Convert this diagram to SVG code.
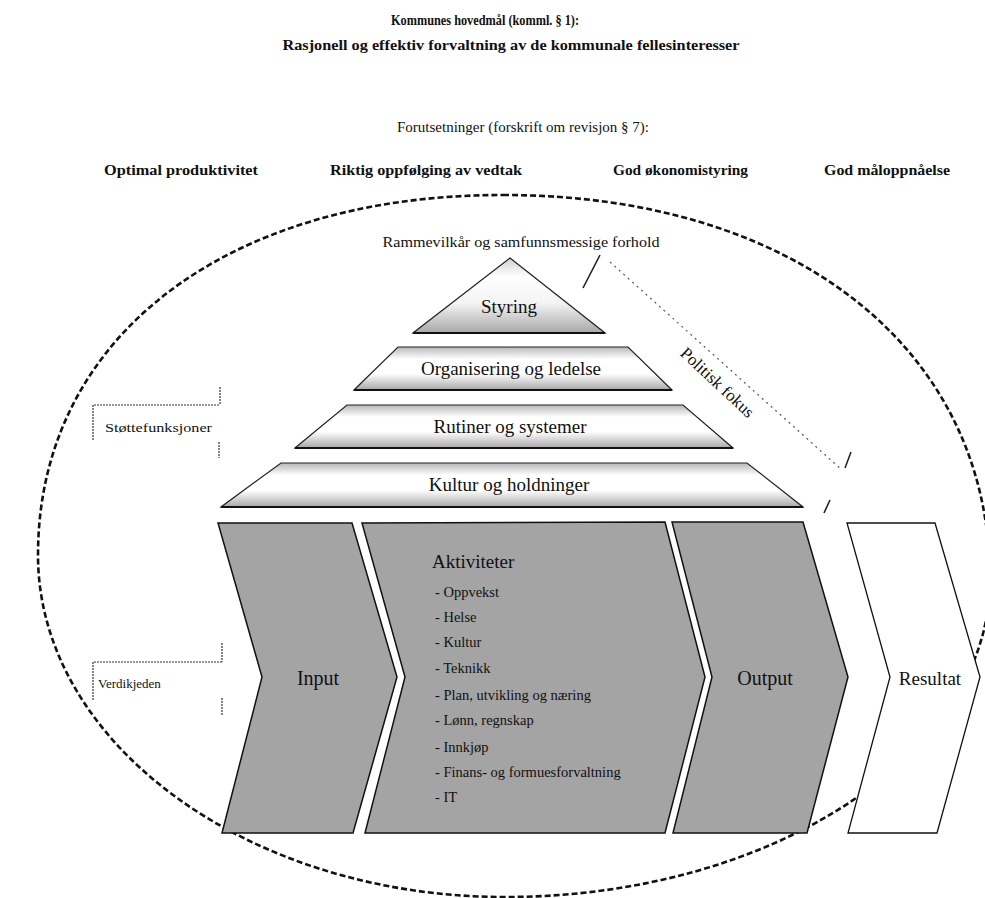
<svg xmlns="http://www.w3.org/2000/svg" width="985" height="898" viewBox="0 0 985 898">
<defs>
<linearGradient id="band" x1="0" y1="0" x2="0" y2="1">
<stop offset="0" stop-color="#b8b8b8"/>
<stop offset="0.28" stop-color="#ffffff"/>
<stop offset="0.62" stop-color="#ffffff"/>
<stop offset="1" stop-color="#a8a8a8"/>
</linearGradient>
<linearGradient id="tri" x1="0" y1="0" x2="0" y2="1">
<stop offset="0" stop-color="#d0d0d0"/>
<stop offset="0.25" stop-color="#ffffff"/>
<stop offset="0.6" stop-color="#f4f4f4"/>
<stop offset="1" stop-color="#a8a8a8"/>
</linearGradient>
<style>
text{font-family:"Liberation Serif","Times New Roman",serif;fill:#111}
.hd{font-size:15px}
.hb{font-size:15px;font-weight:bold}
.pre{font-size:14px;font-weight:bold}
.lvl{font-size:19px;text-anchor:middle}
.chev{fill:#a4a4a4;stroke:#111;stroke-width:1.5}
.res{fill:#ffffff;stroke:#111;stroke-width:1.3}
.band{fill:url(#band);stroke:#222;stroke-width:1.2}
.base{stroke:#111;stroke-width:2.2}
.big{font-size:20px;text-anchor:middle}
.item{font-size:14.5px}
.lbl{font-size:13px}
.brk{fill:none;stroke:#333;stroke-width:1.2;stroke-dasharray:2 1}
.dot{fill:none;stroke:#555;stroke-width:1.2;stroke-dasharray:2 4}
.tick{stroke:#222;stroke-width:1.6}
</style>
</defs>
<rect width="985" height="898" fill="#ffffff"/>

<g id="header">
<text class="hb" x="485" y="25" text-anchor="middle" textLength="188" lengthAdjust="spacingAndGlyphs">Kommunes hovedmål (komml. § 1):</text>
<text class="hb" x="511" y="50" text-anchor="middle" textLength="457" lengthAdjust="spacingAndGlyphs">Rasjonell og effektiv forvaltning av de kommunale fellesinteresser</text>
</g>

<g id="forutsetninger">
<text class="hd" x="523" y="132" text-anchor="middle" font-size="14">Forutsetninger (forskrift om revisjon § 7):</text>
<text class="pre" x="104" y="175" textLength="154" lengthAdjust="spacingAndGlyphs">Optimal produktivitet</text>
<text class="pre" x="330" y="175" textLength="192" lengthAdjust="spacingAndGlyphs">Riktig oppfølging av vedtak</text>
<text class="pre" x="613" y="175" textLength="135" lengthAdjust="spacingAndGlyphs">God økonomistyring</text>
<text class="pre" x="824" y="175" textLength="126" lengthAdjust="spacingAndGlyphs">God måloppnåelse</text>
</g>

<g id="ramme">
<path d="M503,195 C795,195 990,349 990,580 C990,754 772,897 505,897 C248,897 38,743 38,555 C38,339 224,195 503,195 Z" fill="none" stroke="#111" stroke-width="2.6" stroke-dasharray="6 3"/>
<text class="hd" x="521" y="247" text-anchor="middle" textLength="277" lengthAdjust="spacingAndGlyphs">Rammevilkår og samfunnsmessige forhold</text>
</g>

<g id="styring">
<polygon points="510,258 605,333 413,333" fill="url(#tri)" stroke="#222" stroke-width="1.2"/>
<line class="base" x1="413" y1="333" x2="605" y2="333"/>
<text class="lvl" x="509" y="313" font-size="21">Styring</text>
</g>

<g id="organisering">
<polygon class="band" points="398,347 628,347 672,390 354,390"/>
<line class="base" x1="354" y1="390" x2="672" y2="390"/>
<text class="lvl" x="511" y="375">Organisering og ledelse</text>
</g>

<g id="rutiner">
<polygon class="band" points="347,405 683,405 733,448 295,448"/>
<line class="base" x1="295" y1="448" x2="733" y2="448"/>
<text class="lvl" x="510" y="433">Rutiner og systemer</text>
</g>

<g id="kultur">
<polygon class="band" points="281,463 747,463 803,507 221,507"/>
<line class="base" x1="221" y1="507" x2="803" y2="507"/>
<text class="lvl" x="509" y="491">Kultur og holdninger</text>
</g>

<g id="input">
<polygon class="chev" points="218,523 352,523 397,677 353,833 222,833 262,677"/>
<text class="big" x="318" y="685">Input</text>
</g>

<g id="aktiviteter">
<polygon class="chev" points="362,523 665,522 705,677 665,833 365,833 405,677"/>
<text x="432" y="568" font-size="19">Aktiviteter</text>
<text class="item" x="435" y="597">- Oppvekst</text>
<text class="item" x="435" y="622">- Helse</text>
<text class="item" x="435" y="647">- Kultur</text>
<text class="item" x="435" y="673">- Teknikk</text>
<text class="item" x="435" y="700">- Plan, utvikling og næring</text>
<text class="item" x="435" y="725">- Lønn, regnskap</text>
<text class="item" x="435" y="752">- Innkjøp</text>
<text class="item" x="435" y="777">- Finans- og formuesforvaltning</text>
<text class="item" x="435" y="802">- IT</text>
</g>

<g id="output">
<polygon class="chev" points="672,522 803,522 848,677 807,833 673,833 712,677"/>
<text class="big" x="765" y="685">Output</text>
</g>

<g id="resultat">
<polygon class="res" points="847,523 935,523 980,677 937,833 848,833 890,677"/>
<text x="930" y="685" font-size="19" text-anchor="middle">Resultat</text>
</g>

<g id="stottefunksjoner">
<path class="brk" d="M93,440 V405 H220 M220,387 V405 M219,442 V458"/>
<text class="lbl" x="105" y="432" textLength="107" lengthAdjust="spacingAndGlyphs">Støttefunksjoner</text>
</g>

<g id="verdikjeden">
<path class="brk" d="M93,700 V662 H222 M222,643 V662 M222,698 V715"/>
<text class="lbl" x="98" y="688">Verdikjeden</text>
</g>

<g id="connectors">
<line class="tick" x1="600" y1="255" x2="583" y2="288"/>
<line class="dot" x1="610" y1="262" x2="842" y2="470"/>
<line class="tick" x1="851" y1="452" x2="845" y2="468"/>
<line class="tick" x1="830" y1="500" x2="824" y2="513"/>
<text x="717" y="388" font-size="17" text-anchor="middle" transform="rotate(43 717 383)">Politisk fokus</text>
</g>
</svg>
